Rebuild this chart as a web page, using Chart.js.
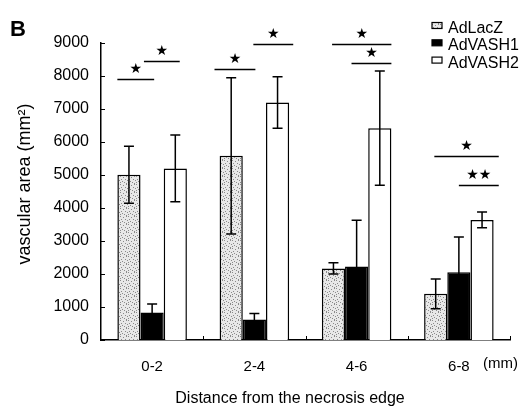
<!DOCTYPE html>
<html>
<head>
<meta charset="utf-8">
<script src="https://cdn.jsdelivr.net/npm/chart.js@4.4.0/dist/chart.umd.min.js"></script>
<style>
body { margin: 0; background: #fff; }
</style>
</head>
<body>
<canvas id="myChart" width="528" height="406"></canvas>
<script>
var categories = ['0-2', '2-4', '4-6', '6-8'];
var seriesNames = ['AdLacZ', 'AdVASH1', 'AdVASH2'];
var lacz = [5010, 5580, 2170, 1400];
var laczSd = [865, 2370, 170, 450];
var vash1 = [830, 620, 2230, 2050];
var vash1Sd = [260, 180, 1400, 1070];
var vash2 = [5200, 7200, 6420, 3640];
var vash2Sd = [1010, 780, 1730, 240];
var yMax = 9000;
var yStep = 1000;

// significance brackets (category, offset from/to in category widths, height, mark)
var bracketCat = [0, 0, 1, 1, 2, 2, 3, 3];
var bracketFrom = [-0.34, -0.08, -0.39, -0.01, -0.24, -0.05, -0.24, 0.0];
var bracketTo = [0.02, 0.27, 0.01, 0.38, 0.34, 0.34, 0.39, 0.39];
var bracketY = [7900, 8440, 8220, 8970, 8970, 8380, 5570, 4700];
var bracketLabel = ['\u2605', '\u2605', '\u2605', '\u2605', '\u2605', '\u2605', '\u2605', '\u2605\u2605'];

var FONT = '"Liberation Sans", Arial, sans-serif';

// stippled fill for AdLacZ
function makeStipple() {
    var c = document.createElement('canvas');
    c.width = 8; c.height = 8;
    var g = c.getContext('2d');
    g.fillStyle = '#e8e8e8';
    g.fillRect(0, 0, 8, 8);
    g.fillStyle = '#8a8a8a';
    var dots = [[0,0],[3,1],[6,0],[1,3],[5,3],[7,4],[2,5],[4,6],[0,6],[6,7]];
    dots.forEach(function (d) { g.fillRect(d[0], d[1], 1, 1); });
    var p = document.getElementById('myChart').getContext('2d').createPattern(c, 'repeat');
    return p;
}
var stipple = makeStipple();

var fills = [stipple, '#000000', '#ffffff'];
var sds = [laczSd, vash1Sd, vash2Sd];

const extras = {
    id: 'extras',
    afterDatasetsDraw(chart) {
        const ctx = chart.ctx;
        const xs = chart.scales.x;
        const ys = chart.scales.y;
        const area = chart.chartArea;
        ctx.save();

        // error bars
        ctx.strokeStyle = '#000';
        ctx.lineWidth = 1.5;
        chart.data.datasets.forEach(function (ds, i) {
            chart.getDatasetMeta(i).data.forEach(function (bar, j) {
                var v = ds.data[j];
                var sd = sds[i][j];
                var top = ys.getPixelForValue(v + sd);
                var bot = ys.getPixelForValue(v - sd);
                ctx.beginPath();
                ctx.moveTo(bar.x, top); ctx.lineTo(bar.x, bot);
                ctx.moveTo(bar.x - 5, top); ctx.lineTo(bar.x + 5, top);
                ctx.moveTo(bar.x - 5, bot); ctx.lineTo(bar.x + 5, bot);
                ctx.stroke();
            });
        });

        // axis ticks pointing inward
        ctx.lineWidth = 1;
        ctx.beginPath();
        for (var t = 0; t <= yMax; t += yStep) {
            var py = Math.round(ys.getPixelForValue(t)) + 0.5;
            ctx.moveTo(area.left, py); ctx.lineTo(area.left + 4, py);
        }
        var cw = (area.right - area.left) / categories.length;
        for (var k = 1; k <= categories.length; k++) {
            var px = Math.round(area.left + k * cw) + 0.5;
            ctx.moveTo(px, area.bottom); ctx.lineTo(px, area.bottom - 4);
        }
        ctx.stroke();

        // significance brackets
        ctx.lineWidth = 1.4;
        ctx.fillStyle = '#000';
        ctx.textAlign = 'center';
        ctx.textBaseline = 'middle';
        ctx.font = '14px "DejaVu Sans"';
        for (var b = 0; b < bracketCat.length; b++) {
            var cx = xs.getPixelForValue(bracketCat[b]);
            var x1 = cx + bracketFrom[b] * cw;
            var x2 = cx + bracketTo[b] * cw;
            var by = Math.round(ys.getPixelForValue(bracketY[b])) + 0.5;
            ctx.beginPath();
            ctx.moveTo(x1, by); ctx.lineTo(x2, by);
            ctx.stroke();
            ctx.fillText(bracketLabel[b], (x1 + x2) / 2, by - 10);
        }

        // legend
        ctx.textAlign = 'left';
        ctx.font = '16px ' + FONT;
        for (var s = 0; s < seriesNames.length; s++) {
            var ly = 25.5 + s * 17.3;
            ctx.fillStyle = fills[s];
            ctx.fillRect(432, ly - 3, 10, 6);
            ctx.strokeStyle = '#000';
            ctx.lineWidth = 1.2;
            ctx.strokeRect(432, ly - 3, 10, 6);
            ctx.fillStyle = '#000';
            ctx.fillText(seriesNames[s], 448, ly + 3);
        }

        // panel letter, units, axis titles
        ctx.font = 'bold 22px ' + FONT;
        ctx.fillText('B', 10, 30);
        ctx.font = '15px ' + FONT;
        ctx.fillText('(mm)', 483, 364);
        ctx.textAlign = 'center';
        ctx.font = '16px ' + FONT;
        ctx.fillText('Distance from the necrosis edge', 290, 399);
        ctx.translate(25, 184);
        ctx.rotate(-Math.PI / 2);
        ctx.font = '18px ' + FONT;
        ctx.fillText('vascular area (mm\u00b2)', 0, 0);
        ctx.restore();
    }
};

const data = {
    labels: categories,
    datasets: [
        { label: seriesNames[0], data: lacz, backgroundColor: stipple, borderColor: '#000', borderWidth: 1.5 },
        { label: seriesNames[1], data: vash1, backgroundColor: '#000', borderColor: '#000', borderWidth: 1.5 },
        { label: seriesNames[2], data: vash2, backgroundColor: '#fff', borderColor: '#000', borderWidth: 1.5 }
    ]
};

const config = {
    type: 'bar',
    data: data,
    options: {
        responsive: false,
        animation: false,
        devicePixelRatio: 1,
        layout: { padding: { top: 43, right: 18, left: 0, bottom: 0 } },
        datasets: { bar: { categoryPercentage: 0.68, barPercentage: 1.0 } },
        plugins: { legend: { display: false }, tooltip: { enabled: false } },
        scales: {
            x: {
                grid: { display: false, drawTicks: false },
                border: { display: true, color: '#000', width: 1.5 },
                ticks: { color: '#000', font: { family: FONT, size: 15 }, padding: 18 },
                afterFit: function (scale) { scale.height = 66; }
            },
            y: {
                min: 0,
                max: yMax,
                grid: { display: false, drawTicks: false },
                border: { display: true, color: '#000', width: 1.5 },
                ticks: {
                    stepSize: yStep, color: '#000', font: { family: FONT, size: 16 }, padding: 12,
                    callback: function (v) { return String(v); }
                },
                afterFit: function (scale) { scale.width = 101; }
            }
        }
    },
    plugins: [extras]
};

let myChart = new Chart(document.getElementById('myChart').getContext('2d'), config);
</script>
</body>
</html>
